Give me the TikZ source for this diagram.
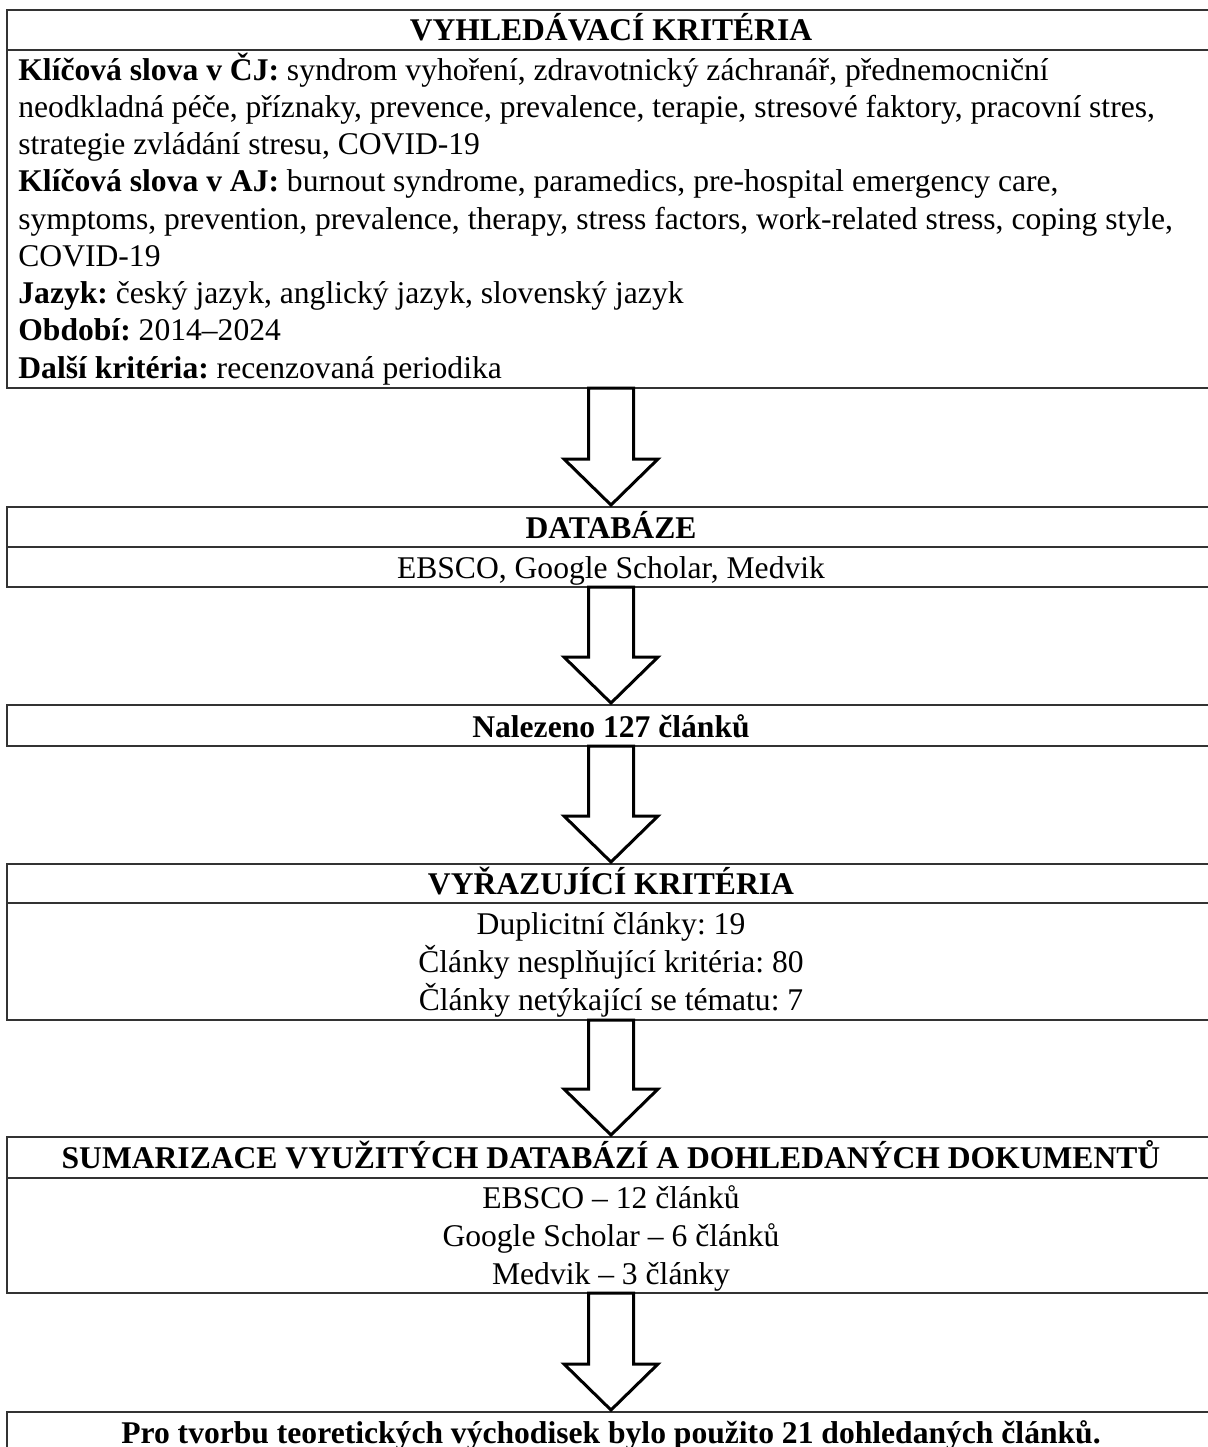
\documentclass[tikz,border=0pt]{standalone}
\usepackage{fontspec}
\setmainfont{Liberation Serif}
\usetikzlibrary{calc}
\frenchspacing

% Blokova sipka z boxu #1 do boxu #2
\newcommand{\sipka}[2]{%
  \draw[sipka] ($(#1.south)+(-22.5,0)$) -- ($(#1.south)+(22.5,0)$)
    -- ($(#2.north)+(22.5,-48)$) -- ($(#2.north)+(47,-48)$)
    -- ($(#2.north)+(0,-2)$) -- ($(#2.north)+(-47,-48)$)
    -- ($(#2.north)+(-22.5,-48)$) -- cycle;}

\begin{document}
\begin{tikzpicture}[x=0.5pt,y=-0.5pt,
    cara/.style={draw=black!80, line width=1pt},
    ramec/.style={cara, minimum width=604pt, inner sep=0pt, outer sep=0pt},
    sipka/.style={draw=black, line width=1.5pt, fill=white, line join=miter},
    radek/.style={anchor=base west, inner sep=0pt, font=\fontsize{15.8}{18.5}\selectfont},
    stred/.style={anchor=base, inner sep=0pt, font=\fontsize{15.8}{18.5}\selectfont},
    hlava/.style={anchor=base, inner sep=0pt, font=\fontsize{15.8}{18.5}\selectfont\bfseries}]
    \useasboundingbox (0,0) rectangle (1208,1447);
    \clip (0,0) rectangle (1208,1447);

    % Vyhledavaci kriteria
    \node[ramec, minimum height=189pt] (krit) at (611,199) {};
    \draw[cara] (krit.north west) ++(0,40) -- ++(1208,0);
    \node[hlava] (krit-h) at (611,40) {VYHLEDÁVACÍ KRITÉRIA};
    \node[radek] (k1) at (18,80) {\textbf{Klíčová slova v ČJ:} syndrom vyhoření, zdravotnický záchranář, přednemocniční};
    \node[radek] (k2) at (18,117.25) {neodkladná péče, příznaky, prevence, prevalence, terapie, stresové faktory, pracovní stres,};
    \node[radek] (k3) at (18,154.5) {strategie zvládání stresu, COVID-19};
    \node[radek] (k4) at (18,191.75) {\textbf{Klíčová slova v AJ:} burnout syndrome, paramedics, pre-hospital emergency care,};
    \node[radek] (k5) at (18,229) {symptoms, prevention, prevalence, therapy, stress factors, work-related stress, coping style,};
    \node[radek] (k6) at (18,266.25) {COVID-19};
    \node[radek] (k7) at (18,303.5) {\textbf{Jazyk:} český jazyk, anglický jazyk, slovenský jazyk};
    \node[radek] (k8) at (18,340.75) {\textbf{Období:} 2014--2024};
    \node[radek] (k9) at (18,378) {\textbf{Další kritéria:} recenzovaná periodika};

    % Databaze
    \node[ramec, minimum height=40pt] (db) at (611,547) {};
    \draw[cara] (db.west) -- (db.east);
    \node[hlava] (db-h) at (611,538) {DATABÁZE};
    \node[stred] (db1) at (611,578) {EBSCO, Google Scholar, Medvik};

    % Nalezeno
    \node[ramec, minimum height=20.5pt] (nal) at (611,725.5) {};
    \node[hlava] (nal-t) at (611,737) {Nalezeno 127 článků};

    % Vyrazujici kriteria
    \node[ramec, minimum height=78pt] (vyr) at (611,942) {};
    \draw[cara] (vyr.north west) ++(0,39) -- ++(1208,0);
    \node[hlava] (vyr-h) at (611,894) {VYŘAZUJÍCÍ KRITÉRIA};
    \node[stred] (v1) at (611,934) {Duplicitní články: 19};
    \node[stred] (v2) at (611,972) {Články nesplňující kritéria: 80};
    \node[stred] (v3) at (611,1010) {Články netýkající se tématu: 7};

    % Sumarizace
    \node[ramec, minimum height=78pt] (sum) at (611,1215) {};
    \draw[cara] (sum.north west) ++(0,41) -- ++(1208,0);
    \node[hlava] (sum-h) at (611,1168) {SUMARIZACE VYUŽITÝCH DATABÁZÍ A DOHLEDANÝCH DOKUMENTŮ};
    \node[stred] (s1) at (611,1208) {EBSCO -- 12 článků};
    \node[stred] (s2) at (611,1246) {Google Scholar -- 6 článků};
    \node[stred] (s3) at (611,1284) {Medvik -- 3 články};

    % Zaver
    \node[ramec, minimum height=30pt] (zav) at (611,1442) {};
    \node[hlava] (zav-t) at (611,1443) {Pro tvorbu teoretických východisek bylo použito 21 dohledaných článků.};

    % Sipky
    \sipka{krit}{db}
    \sipka{db}{nal}
    \sipka{nal}{vyr}
    \sipka{vyr}{sum}
    \sipka{sum}{zav}
\end{tikzpicture}
\end{document}
